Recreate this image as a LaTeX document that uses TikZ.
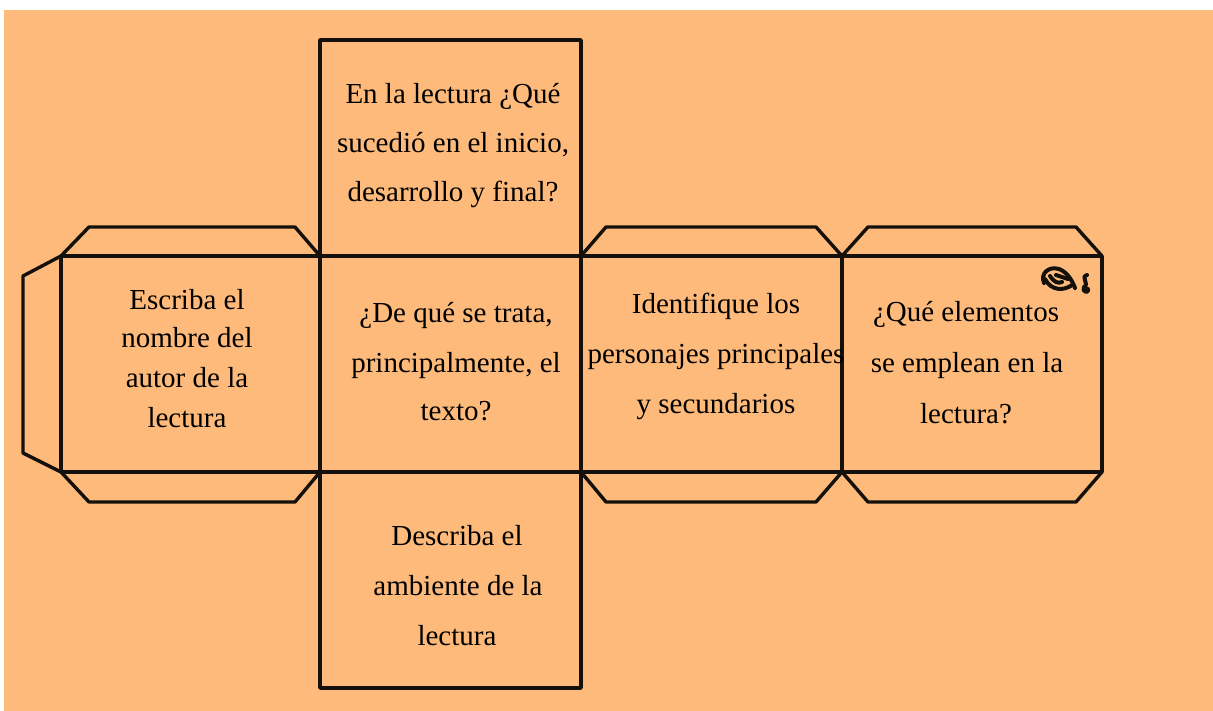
\documentclass[tikz,border=0pt]{standalone}
\usepackage{fontspec}
\setmainfont{Liberation Serif}
\definecolor{bgorange}{RGB}{254,186,122}
\definecolor{inkline}{RGB}{20,16,12}
\tikzset{
  netline/.style={draw=inkline, line width=3.4pt, line join=round, line cap=round},
  scrib/.style={draw=inkline, line width=4pt, line cap=round, line join=round},
  txt/.style={anchor=base, inner sep=0pt, text=black, font=\fontsize{29}{35}\selectfont}
}
\begin{document}
\begin{tikzpicture}[x=1pt, y=-1pt]
\useasboundingbox (0,0) rectangle (1213,711);
\fill[white] (0,0) rectangle (1213,711);
\fill[bgorange] (4,10) rectangle (1213,711);

% main faces
\draw[netline] (320,40) rectangle (581,256);
\draw[netline] (61,256) rectangle (1102,472);
\draw[netline] (320,256) -- (320,472);
\draw[netline] (581,256) -- (581,472);
\draw[netline] (842,256) -- (842,472);
\draw[netline] (320,472) rectangle (581,688);

% flaps
\draw[netline] (61,256) -- (89,227) -- (295,227) -- (320,256);
\draw[netline] (61,472) -- (89,502) -- (295,502) -- (320,472);
\draw[netline] (581,256) -- (606,227) -- (816,227) -- (842,256);
\draw[netline] (581,472) -- (606,502) -- (816,502) -- (842,472);
\draw[netline] (842,256) -- (868,227) -- (1076,227) -- (1102,256);
\draw[netline] (842,472) -- (868,502) -- (1076,502) -- (1102,472);
\draw[netline] (61,256) -- (23,276) -- (23,453) -- (61,472);

% scribble
\draw[scrib] (1044,283) .. controls (1040,273) and (1049,266) .. (1059,269) .. controls (1067,272) and (1072,280) .. (1075,288);
\draw[scrib] (1045,279) .. controls (1051,291) and (1064,291) .. (1072,285);
\draw[scrib] (1050,276) .. controls (1054,282) and (1058,284) .. (1062,282);
\draw[scrib] (1056,275) -- (1068,279);
\draw[scrib] (1087,275) .. controls (1080,277) and (1090,284) .. (1084,287) .. controls (1081,292) and (1090,294) .. (1088,289);

% top face
\node[txt] (top1) at (453,104) {En la lectura ¿Qué};
\node[txt] (top2) at (453,153) {sucedió en el inicio,};
\node[txt] (top3) at (453,202) {desarrollo y final?};

% left face
\node[txt] (lft1) at (187,310) {Escriba el};
\node[txt] (lft2) at (187,348) {nombre del};
\node[txt] (lft3) at (187,387) {autor de la};
\node[txt] (lft4) at (187,427) {lectura};

% centre face
\node[txt] (ctr1) at (456,323) {¿De qué se trata,};
\node[txt] (ctr2) at (456,372) {principalmente, el};
\node[txt] (ctr3) at (456,420) {texto?};

% third face
\node[txt] (thr1) at (716,314) {Identifique los};
\node[txt] (thr2) at (716,363) {personajes principales};
\node[txt] (thr3) at (716,413) {y secundarios};

% fourth face
\node[txt] (fth1) at (966,322) {¿Qué elementos};
\node[txt] (fth2) at (967,372) {se emplean en la};
\node[txt] (fth3) at (966,423) {lectura?};

% bottom face
\node[txt] (bot1) at (457,545) {Describa el};
\node[txt] (bot2) at (458,595) {ambiente de la};
\node[txt] (bot3) at (457,645) {lectura};
\end{tikzpicture}
\end{document}
